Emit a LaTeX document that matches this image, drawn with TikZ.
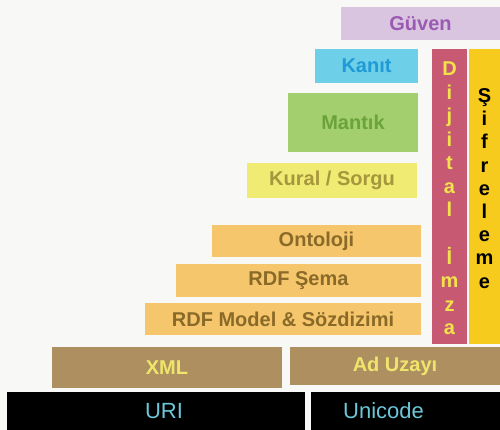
\documentclass[tikz,border=0pt]{standalone}
\usepackage{fontspec}
\setmainfont{Liberation Sans}
\definecolor{bgc}{HTML}{F8F8F6}
\definecolor{guvenfill}{HTML}{D9C5E0}
\definecolor{guventext}{HTML}{9B5AB2}
\definecolor{kanitfill}{HTML}{6ECFE8}
\definecolor{kanittext}{HTML}{1F9AD6}
\definecolor{mantikfill}{HTML}{A3CF6E}
\definecolor{mantiktext}{HTML}{6BA33A}
\definecolor{kuralfill}{HTML}{EFEB73}
\definecolor{kuraltext}{HTML}{A6963C}
\definecolor{rdffill}{HTML}{F6C66C}
\definecolor{rdftext}{HTML}{8A6A28}
\definecolor{imzafill}{HTML}{C75A72}
\definecolor{imzatext}{HTML}{F2E34A}
\definecolor{sifrefill}{HTML}{F6CB1E}
\definecolor{xmlfill}{HTML}{AE9060}
\definecolor{xmltext}{HTML}{EFE56C}
\definecolor{uritext}{HTML}{6CC7D8}
\tikzset{
  layer/.style={rectangle, inner sep=0pt, draw=none, font=\bfseries\fontsize{20}{24}\selectfont},
  base/.style={rectangle, inner sep=0pt, draw=none, fill=black},
  basetext/.style={inner sep=0pt, text=uritext, font=\fontsize{22}{26}\selectfont},
  letter/.style={inner sep=0pt, anchor=base, font=\bfseries\fontsize{20}{24}\selectfont}
}
\begin{document}
\begin{tikzpicture}[x=1pt,y=-1pt]
\useasboundingbox (0,0) rectangle (500,430);
\fill[bgc] (0,0) rectangle (500,430);

% upper layers of the stack
\node[layer, fill=guvenfill, text=guventext, minimum width=159pt, minimum height=33pt] (guven) at (420.5,23.5) {Güven};
\node[layer, fill=kanitfill, text=kanittext, minimum width=103pt, minimum height=34pt] (kanit) at (366.5,66) {Kanıt};
\node[layer, fill=mantikfill, text=mantiktext, minimum width=130pt, minimum height=59pt] (mantik) at (353,122.5) {Mantık};
\node[layer, fill=kuralfill, text=kuraltext, minimum width=170pt, minimum height=35pt] (kural) at (332,180.5) {Kural / Sorgu};
\node[layer, fill=rdffill, text=rdftext, minimum width=209pt, minimum height=32pt] (ontoloji) at (316.5,241) {Ontoloji};
\node[layer, fill=rdffill, text=rdftext, minimum width=245pt, minimum height=33pt] (rdfsema) at (298.5,280.5) {RDF Şema};
\node[layer, fill=rdffill, text=rdftext, minimum width=276pt, minimum height=32pt] (rdfmodel) at (283,319) {RDF Model \& Sözdizimi};

% vertical columns
\node[layer, fill=imzafill, minimum width=35pt, minimum height=295pt] (imza) at (449.5,196.5) {};
\node[layer, fill=sifrefill, minimum width=32pt, minimum height=295pt] (sifre) at (484.5,196.5) {};
\foreach \ch [count=\k from 0] in {D,i,j,i,t,a,l,{},İ,m,z,a}
  \node[letter, text=imzatext] (imzaletter\k) at (449.5,{76+23.5*\k}) {\ch};
\foreach \ch [count=\k from 0] in {Ş,i,f,r,e,l,e,m,e}
  \node[letter, text=black] (sifreletter\k) at (484.5,{102.5+23.2*\k}) {\ch};

% XML and namespaces
\node[layer, fill=xmlfill, text=xmltext, minimum width=230pt, minimum height=41pt] (xml) at (167,367.5) {XML};
\node[layer, fill=xmlfill, text=xmltext, minimum width=210pt, minimum height=38pt] (aduzayi) at (395,366) {Ad Uzayı};

% base layer
\node[base, minimum width=298pt, minimum height=38pt] (uri) at (156,411) {};
\node[base, minimum width=189pt, minimum height=38pt] (unicode) at (405.5,411) {};
\node[basetext] (uritxt) at ([xshift=8pt]uri.center) {URI};
\node[basetext] (unicodetxt) at ([xshift=-22pt]unicode.center) {Unicode};
\end{tikzpicture}
\end{document}
